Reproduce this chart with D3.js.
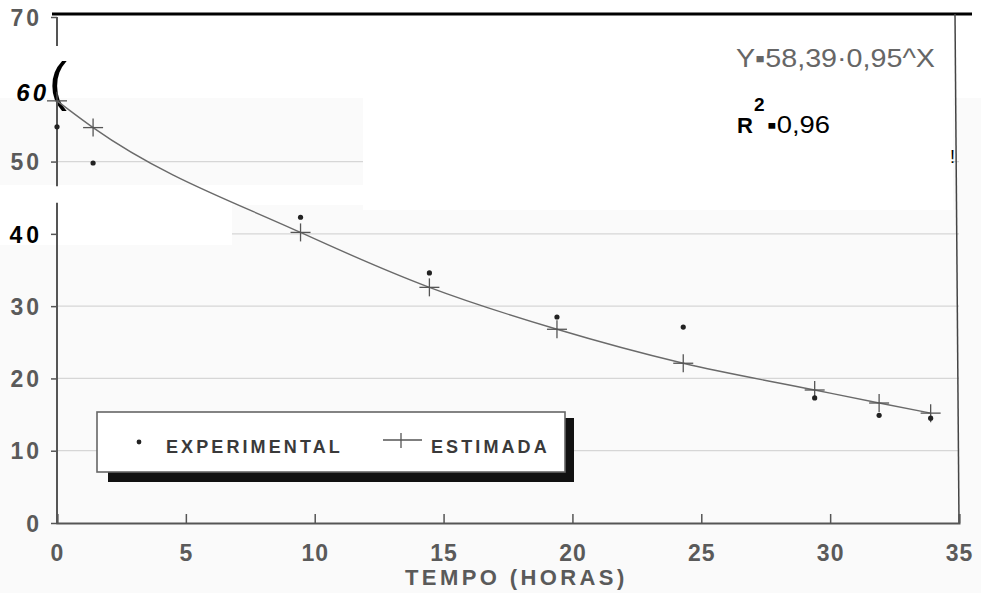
<!DOCTYPE html>
<html>
<head>
<meta charset="utf-8">
<script src="https://cdn.jsdelivr.net/npm/d3@7"></script>
<style>
  body { margin: 0; background: #fff; }
  svg { display: block; font-family: "Liberation Sans", Arial, sans-serif; }
</style>
</head>
<body>
<script>

// tempo (horas) and the two series
const horas = [0, 1.4, 9.45, 14.45, 19.4, 24.3, 29.4, 31.9, 33.9]
const experimental = [54.8, 49.8, 42.3, 34.6, 28.5, 27.1, 17.3, 14.9, 14.5]
const estimada = [58.4, 54.7, 40.2, 32.6, 26.8, 22.1, 18.4, 16.6, 15.2]

const xTicks = [0, 5, 10, 15, 20, 25, 30, 35]
const yTicks = [0, 10, 20, 30, 40, 50, 60, 70]
const gridTicks = [10, 20, 30, 40, 50]
const legendLabels = ['EXPERIMENTAL', 'ESTIMADA']
const equation = 'Y\u25AA58,39\u00B70,95^X'
const r2 = '\u25AA0,96'
const xTitle = 'TEMPO (HORAS)'

const W = 981, H = 593

const x = d3.scaleLinear([0, 35], [57, 959])
const y = d3.scaleLinear([0, 70], [523, 17])

const svg = d3.select('body')
    .append('svg')
    .attr('width', W)
    .attr('height', H)

// faint scanned paper tint, with the white pasted-over patches
svg.append('rect')
    .attr('x', 0).attr('y', 98)
    .attr('width', W).attr('height', H - 98)
    .attr('fill', '#fafafa')

svg.selectAll('line.grid')
    .data(gridTicks)
    .join('line')
    .attr('class', 'grid')
    .attr('x1', x(0)).attr('x2', x(35))
    .attr('y1', d => y(d)).attr('y2', d => y(d))
    .attr('stroke', '#d6d6d6')
    .attr('stroke-width', 1.2)

const patches = [[363, 98, 590, 112], [0, 185, 363, 20], [0, 205, 232, 40]]
svg.selectAll('rect.patch')
    .data(patches)
    .join('rect')
    .attr('class', 'patch')
    .attr('x', d => d[0]).attr('y', d => d[1])
    .attr('width', d => d[2]).attr('height', d => d[3])
    .attr('fill', '#fff')

// top frame line and right border
svg.append('line')
    .attr('x1', 52).attr('x2', 972)
    .attr('y1', 14).attr('y2', 14)
    .attr('stroke', '#000')
    .attr('stroke-width', 3)

svg.append('line')
    .attr('x1', 955).attr('x2', 959)
    .attr('y1', 14).attr('y2', y(0))
    .attr('stroke', '#444')
    .attr('stroke-width', 1.5)

// x axis
const xAxis = svg.append('g')
    .attr('transform', `translate(0,${y(0)})`)
    .call(d3.axisBottom(x).tickValues(xTicks).tickSize(-9).tickPadding(22).tickFormat(d3.format('d')))

xAxis.select('.domain').attr('stroke', '#555').attr('stroke-width', 2)
xAxis.selectAll('.tick line').attr('stroke', '#555').attr('stroke-width', 1.5)
xAxis.selectAll('.tick text')
    .attr('fill', '#5a5a5a')
    .style('font-size', '23px')
    .style('font-weight', 'bold')
    .style('letter-spacing', '1px')

// y axis
const yAxis = svg.append('g')
    .attr('transform', `translate(${x(0)},0)`)
    .call(d3.axisLeft(y).tickValues(yTicks).tickSize(6).tickPadding(9))

yAxis.select('.domain').remove()
yAxis.selectAll('.tick line').attr('stroke', '#555').attr('stroke-width', 1.5)
yAxis.selectAll('.tick text')
    .attr('fill', '#5a5a5a')
    .attr('dy', '0.36em')
    .style('font-size', '23px')
    .style('font-weight', 'bold')
    .style('letter-spacing', '3px')

// the hand-written 60 and the bold pasted 40
yAxis.selectAll('.tick')
    .filter(d => d === 60)
    .select('text')
    .attr('fill', '#000')
    .attr('x', -8)
    .attr('dy', '0.45em')
    .style('font-size', '24px')
    .style('font-style', 'italic')
    .style('font-weight', 'bold')
    .style('letter-spacing', '3px')
yAxis.selectAll('.tick').filter(d => d === 60).select('line').remove()

yAxis.selectAll('.tick')
    .filter(d => d === 40)
    .select('text')
    .attr('fill', '#000')
    .attr('x', -14)
    .style('font-size', '23px')
    .style('font-weight', 'bold')
    .style('letter-spacing', '4px')

svg.append('text')
    .attr('x', 49).attr('y', 100)
    .attr('fill', '#000')
    .style('font-size', '54px')
    .style('font-family', 'Liberation Sans')
    .text('(')

// y axis line, broken where the scan was patched
const axisSegs = [[70, 66], [58.4, 46.6], [44.3, 0]]
svg.selectAll('line.yseg')
    .data(axisSegs)
    .join('line')
    .attr('class', 'yseg')
    .attr('x1', x(0)).attr('x2', x(0))
    .attr('y1', d => y(d[0])).attr('y2', d => y(d[1]))
    .attr('stroke', '#555')
    .attr('stroke-width', 2)

// fitted curve through the estimated values
svg.append('path')
    .datum(horas.map((h, i) => [h, estimada[i]]))
    .attr('fill', 'none')
    .attr('stroke', '#6a6a6a')
    .attr('stroke-width', 1.4)
    .attr('d', d3.line().x(d => x(d[0])).y(d => y(d[1])).curve(d3.curveMonotoneX))

// estimated crosses
const cross = svg.append('g')
    .selectAll('g')
    .data(horas.map((h, i) => [h, estimada[i]]))
    .join('g')
    .attr('transform', d => `translate(${x(d[0])},${y(d[1])})`)
cross.append('line').attr('x1', -10).attr('x2', 10).attr('stroke', '#555').attr('stroke-width', 1.3)
cross.append('line').attr('y1', -9).attr('y2', 9).attr('stroke', '#555').attr('stroke-width', 1.3)

// experimental points
svg.append('g')
    .selectAll('circle')
    .data(horas.map((h, i) => [h, experimental[i]]))
    .join('circle')
    .attr('cx', d => x(d[0]))
    .attr('cy', d => y(d[1]))
    .attr('r', 2.6)
    .attr('fill', '#222')

// legend with its drop shadow
const lg = svg.append('g')
lg.append('rect')
    .attr('x', 108).attr('y', 418)
    .attr('width', 466).attr('height', 64)
    .attr('fill', '#111')
lg.append('rect')
    .attr('x', 97).attr('y', 412)
    .attr('width', 468).attr('height', 60)
    .attr('fill', '#fff')
    .attr('stroke', '#666')
    .attr('stroke-width', 1.6)
lg.append('circle')
    .attr('cx', 139).attr('cy', 442)
    .attr('r', 2.4)
    .attr('fill', '#222')
lg.append('line')
    .attr('x1', 383).attr('x2', 422)
    .attr('y1', 440).attr('y2', 440)
    .attr('stroke', '#555').attr('stroke-width', 1.3)
lg.append('line')
    .attr('x1', 401).attr('x2', 401)
    .attr('y1', 433).attr('y2', 448)
    .attr('stroke', '#555').attr('stroke-width', 1.3)
lg.selectAll('text')
    .data(legendLabels)
    .join('text')
    .attr('x', (d, i) => i === 0 ? 166 : 431)
    .attr('y', 453)
    .attr('fill', '#3a3a3a')
    .style('font-size', '18px')
    .style('font-weight', 'bold')
    .style('letter-spacing', '3.1px')
    .text(d => d)

// regression annotation
svg.append('text')
    .attr('x', 736).attr('y', 67)
    .attr('fill', '#666')
    .attr('textLength', 199)
    .attr('lengthAdjust', 'spacingAndGlyphs')
    .style('font-size', '25px')
    .text(equation)

svg.append('text')
    .attr('x', 737).attr('y', 133)
    .attr('fill', '#000')
    .style('font-size', '22px')
    .style('font-weight', 'bold')
    .text('R')
svg.append('text')
    .attr('x', 754).attr('y', 111)
    .attr('fill', '#000')
    .style('font-size', '19px')
    .style('font-weight', 'bold')
    .text('2')
svg.append('text')
    .attr('x', 767).attr('y', 133)
    .attr('fill', '#000')
    .attr('textLength', 63)
    .attr('lengthAdjust', 'spacingAndGlyphs')
    .style('font-size', '23px')
    .text(r2)

svg.append('text')
    .attr('x', 950).attr('y', 163)
    .attr('fill', '#000')
    .style('font-size', '18px')
    .text('!')

// x axis title
svg.append('text')
    .attr('x', 405).attr('y', 585)
    .attr('fill', '#5a5a5a')
    .style('font-size', '22px')
    .style('font-weight', 'bold')
    .style('letter-spacing', '3.4px')
    .text(xTitle)

</script>
</body>
</html>
